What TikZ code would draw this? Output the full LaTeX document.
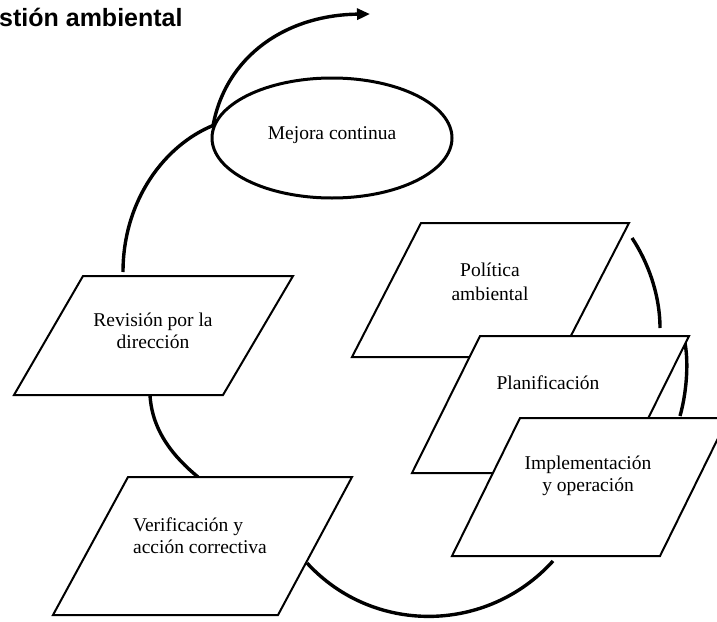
\documentclass[tikz,border=0pt]{standalone}
\usepackage{fontspec}
\setmainfont{Liberation Serif}
\newfontfamily\headfont{Liberation Sans}
\usetikzlibrary{arrows.meta,shapes.geometric}
\begin{document}
\begin{tikzpicture}[x=1pt,y=-1pt,
  txt/.style={font=\fontsize{19.5}{22}\selectfont, align=center, inner sep=0pt},
  frame/.style={draw=black, fill=white, line width=2pt, line join=miter},
  link/.style={line width=3.4pt},
]
\useasboundingbox (0,0) rectangle (717,621);

% heading (left part lies outside the page)
\node[anchor=base west, inner sep=0pt, font=\headfont\bfseries\fontsize{25}{28}\selectfont] (title) at (-1,26) {stión ambiental};

% continual improvement ellipse
\node[ellipse, draw, line width=3pt, minimum width=240pt, minimum height=120pt, inner sep=0pt] (mejora) at (332,138) {};
\node[txt] (mejoratxt) at (332,135) {Mejora continua};

% end points of the cycle arcs
\coordinate (out)  at (370,14);
\coordinate (revT) at (123,272);
\coordinate (revB) at (150,395);
\coordinate (verT) at (198,477);
\coordinate (verR) at (307,563);
\coordinate (impB) at (553,561);
\coordinate (polR) at (632,238);
\coordinate (plaT) at (660,328);
\coordinate (plaR) at (685,343);
\coordinate (impT) at (680,416);

% arcs of the cycle
\draw[link, -{Triangle[length=13pt,width=11pt]}] (mejora.174) .. controls (226,56) and (286,15) .. (out);
\draw[link] (mejora.174) .. controls (165,145) and (123,200) .. (revT);
\draw[link] (revB) .. controls (152,432) and (175,458) .. (verT);
\draw[link] (verR) .. controls (373,635) and (487,634) .. (impB);
\draw[link] (polR) .. controls (648,262) and (660,295) .. (plaT);
\draw[link] (plaR) .. controls (689,365) and (686,395) .. (impT);

% stages
\draw[frame] (83,276) -- (293,276) -- (223,395) -- (14,395) -- cycle;
\node[txt] (revision) at (153,331) {Revisión por la\\dirección};

\draw[frame] (128,477) -- (352,477) -- (278,615) -- (53,615) -- cycle;
\node[txt, align=left] (verif) at (200,536) {Verificación y\\acción correctiva};

\draw[frame] (421,223) -- (629,223) -- (560,357) -- (352,357) -- cycle;
\node[txt, font=\fontsize{19.5}{24}\selectfont] (politica) at (490,282) {Política\\ambiental};

\draw[frame] (480,336) -- (689,336) -- (621,473) -- (412,473) -- cycle;
\node[txt] (planif) at (548,383) {Planificación};

\draw[frame] (520,418) -- (728,418) -- (660,556) -- (452,556) -- cycle;
\node[txt] (implem) at (588,476) {Implementación\\y operación};
\end{tikzpicture}
\end{document}
